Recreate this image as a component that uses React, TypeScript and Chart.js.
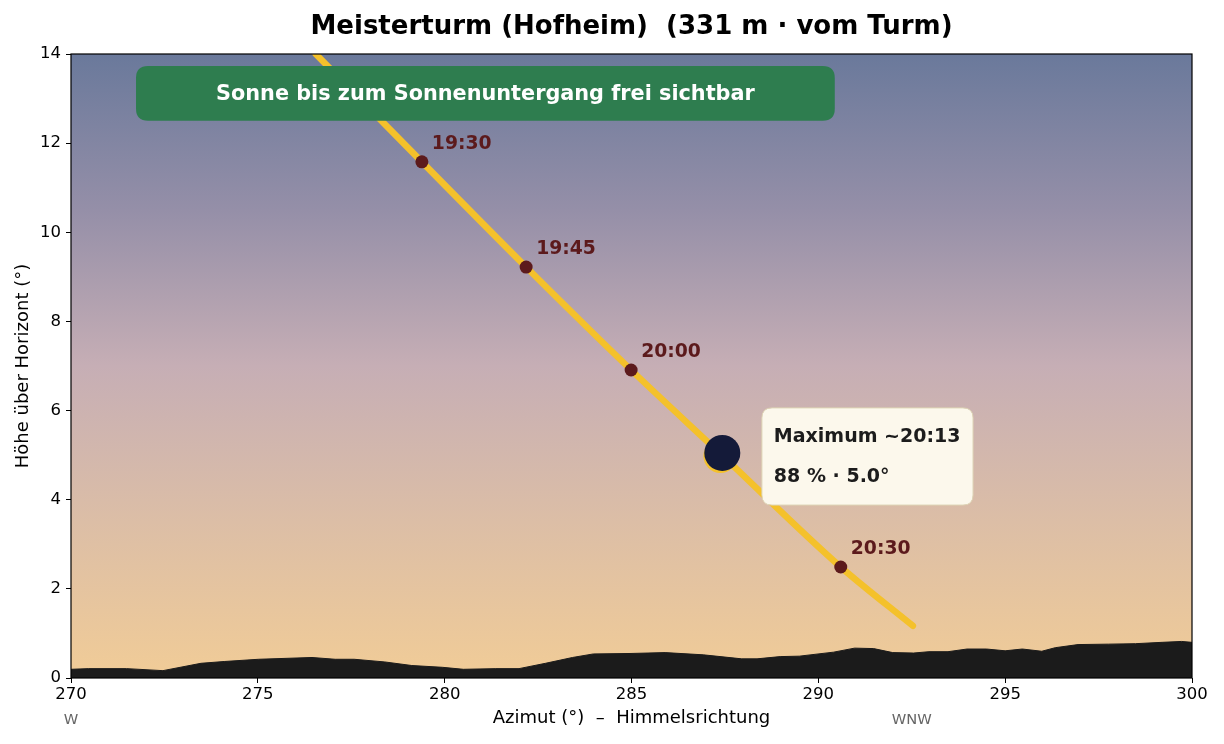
import React, { useEffect, useRef } from "react";
import { Chart, registerables } from "chart.js";

Chart.register(...registerables);

const titleText = "Meisterturm (Hofheim)  (331 m · vom Turm)";
const xTitle = "Azimut (°)  –  Himmelsrichtung";
const yTitle = "Höhe über Horizont (°)";
const bannerText = "Sonne bis zum Sonnenuntergang frei sichtbar";
const maxLine1 = "Maximum ~20:13";
const maxLine2 = "88 % · 5.0°";

const xMin = 270;
const xMax = 300;
const yMin = 0;
const yMax = 14;

// horizon profile
const horizonAz = [270.0, 270.46, 271.49, 272.46, 273.48, 274.1, 275.02, 276.45, 277.07, 277.58, 278.4, 279.12, 279.94, 280.5, 281.37, 281.99, 282.7, 283.42, 283.98, 284.96, 285.9, 286.92, 287.95, 288.36, 288.98, 289.49, 290.41, 290.97, 291.48, 291.99, 292.55, 292.96, 293.47, 293.98, 294.5, 295.0, 295.46, 295.98, 296.34, 296.95, 297.77, 298.49, 299.2, 299.72, 300.0];
const horizonAlt = [0.195, 0.21, 0.21, 0.165, 0.33, 0.37, 0.42, 0.46, 0.42, 0.42, 0.36, 0.28, 0.24, 0.195, 0.21, 0.21, 0.33, 0.46, 0.54, 0.55, 0.57, 0.52, 0.43, 0.43, 0.48, 0.49, 0.58, 0.67, 0.66, 0.57, 0.56, 0.59, 0.59, 0.65, 0.65, 0.61, 0.65, 0.6, 0.68, 0.75, 0.76, 0.77, 0.8, 0.82, 0.8];

// sun path
const pathAz = [276.55, 279.39, 282.18, 284.99, 287.42, 290.6, 292.53];
const pathAlt = [14.0, 11.58, 9.22, 6.91, 5.0, 2.49, 1.17];

// time markers
const markTimes = ["19:30", "19:45", "20:00", "20:30"];
const markAz = [279.39, 282.18, 284.99, 290.6];
const markAlt = [11.58, 9.22, 6.91, 2.49];

// eclipse maximum
const sunAz = 287.38;
const sunAlt = 4.98;
const moonAz = 287.43;
const moonAlt = 5.05;

// direction labels
const dirLabels = ["W", "WNW"];
const dirAz = [270, 292.5];

// annotation boxes (data coords)
const bannerBox = [271.74, 290.44, 13.73, 12.5];
const infoBox = [288.49, 294.14, 6.06, 3.88];
const infoTextAz = 288.81;
const infoTextAlt = [5.43, 4.53];

const FONT = "'DejaVu Sans', sans-serif";

function roundRect(ctx: CanvasRenderingContext2D, x: number, y: number, w: number, h: number, r: number) {
  ctx.beginPath();
  ctx.moveTo(x + r, y);
  ctx.lineTo(x + w - r, y);
  ctx.quadraticCurveTo(x + w, y, x + w, y + r);
  ctx.lineTo(x + w, y + h - r);
  ctx.quadraticCurveTo(x + w, y + h, x + w - r, y + h);
  ctx.lineTo(x + r, y + h);
  ctx.quadraticCurveTo(x, y + h, x, y + h - r);
  ctx.lineTo(x, y + r);
  ctx.quadraticCurveTo(x, y, x + r, y);
  ctx.closePath();
}

export default function App() {
  const ref = useRef<HTMLCanvasElement>(null);

  useEffect(() => {
    document.body.style.margin = "0";
    const canvas = ref.current!;
    const bgPlugin = {
      id: "bg",
      beforeDraw(chart: any) {
        const { ctx, chartArea: a } = chart;
        ctx.save();
        ctx.fillStyle = "#ffffff";
        ctx.fillRect(0, 0, chart.width, chart.height);
        const g = ctx.createLinearGradient(0, a.top, 0, a.bottom);
        g.addColorStop(0, "#6a799b");
        g.addColorStop(0.25, "#958fa8");
        g.addColorStop(0.5, "#c6aeb5");
        g.addColorStop(0.75, "#dcbea6");
        g.addColorStop(1, "#f1cc97");
        ctx.fillStyle = g;
        ctx.fillRect(a.left, a.top, a.right - a.left, a.bottom - a.top);
        ctx.restore();
      },
      afterDatasetsDraw(chart: any) {
        const { ctx } = chart;
        const xs = chart.scales.x;
        const ys = chart.scales.y;
        ctx.save();
        // time labels
        ctx.fillStyle = "#5c1a1c";
        ctx.font = `bold 18.8px ${FONT}`;
        ctx.textAlign = "left";
        ctx.textBaseline = "middle";
        markTimes.forEach((t, i) => {
          const px = xs.getPixelForValue(markAz[i]);
          const py = ys.getPixelForValue(markAlt[i]);
          ctx.fillText(t, px + 10, py - 18);
        });
        // banner
        {
          const l = xs.getPixelForValue(bannerBox[0]);
          const r = xs.getPixelForValue(bannerBox[1]);
          const t = ys.getPixelForValue(bannerBox[2]);
          const b = ys.getPixelForValue(bannerBox[3]);
          ctx.fillStyle = "#2e7d4f";
          roundRect(ctx, l, t, r - l, b - t, 12);
          ctx.fill();
          ctx.fillStyle = "#ffffff";
          ctx.font = `bold 20.8px ${FONT}`;
          ctx.textAlign = "center";
          ctx.textBaseline = "middle";
          ctx.fillText(bannerText, (l + r) / 2, (t + b) / 2 + 1);
        }
        // info box
        {
          const l = xs.getPixelForValue(infoBox[0]);
          const r = xs.getPixelForValue(infoBox[1]);
          const t = ys.getPixelForValue(infoBox[2]);
          const b = ys.getPixelForValue(infoBox[3]);
          ctx.fillStyle = "#fcf8ec";
          ctx.strokeStyle = "#ddd3b4";
          ctx.lineWidth = 1;
          roundRect(ctx, l, t, r - l, b - t, 10);
          ctx.fill();
          ctx.stroke();
          ctx.fillStyle = "#1c1c1c";
          ctx.font = `bold 19px ${FONT}`;
          ctx.textAlign = "left";
          ctx.textBaseline = "middle";
          const tx = xs.getPixelForValue(infoTextAz);
          ctx.fillText(maxLine1, tx, ys.getPixelForValue(infoTextAlt[0]) + 1);
          ctx.fillText(maxLine2, tx, ys.getPixelForValue(infoTextAlt[1]) + 1);
        }
        ctx.restore();
      },
      afterDraw(chart: any) {
        const { ctx, chartArea: a } = chart;
        const xs = chart.scales.x;
        ctx.save();
        ctx.strokeStyle = "#000";
        ctx.lineWidth = 1.2;
        ctx.strokeRect(a.left, a.top, a.right - a.left, a.bottom - a.top);
        // title
        ctx.fillStyle = "#000";
        ctx.font = `bold 26px ${FONT}`;
        ctx.textAlign = "center";
        ctx.textBaseline = "middle";
        ctx.fillText(titleText, (a.left + a.right) / 2, 27);
        // axis titles
        ctx.font = `18px ${FONT}`;
        ctx.fillText(xTitle, (a.left + a.right) / 2, 718);
        ctx.save();
        ctx.translate(23, (a.top + a.bottom) / 2);
        ctx.rotate(-Math.PI / 2);
        ctx.fillText(yTitle, 0, 0);
        ctx.restore();
        // direction labels
        ctx.fillStyle = "#666666";
        ctx.font = `14.7px ${FONT}`;
        dirLabels.forEach((d, i) => {
          ctx.fillText(d, xs.getPixelForValue(dirAz[i]), 720);
        });
        ctx.restore();
      },
    };

    const chart = new Chart(canvas, {
      type: "line",
      data: {
        datasets: [
          {
            label: "Horizont",
            data: horizonAz.map((x, i) => ({ x, y: horizonAlt[i] })),
            fill: "origin",
            backgroundColor: "#1b1b1b",
            borderColor: "#1b1b1b",
            borderWidth: 1,
            pointRadius: 0,
            tension: 0,
            order: 5,
          } as any,
          {
            label: "Sonnenbahn",
            data: pathAz.map((x, i) => ({ x, y: pathAlt[i] })),
            borderColor: "#f4c12b",
            borderWidth: 6.5,
            borderCapStyle: "round",
            pointRadius: 0,
            cubicInterpolationMode: "monotone",
            fill: false,
            order: 4,
          } as any,
          {
            label: "Zeiten",
            data: markAz.map((x, i) => ({ x, y: markAlt[i] })),
            showLine: false,
            pointRadius: 6.5,
            pointBackgroundColor: "#5c1a1c",
            pointBorderWidth: 0,
            order: 3,
          } as any,
          {
            label: "Sonne",
            data: [{ x: sunAz, y: sunAlt }],
            showLine: false,
            pointRadius: 17,
            pointBackgroundColor: "#f4c12b",
            pointBorderWidth: 0,
            order: 2,
          } as any,
          {
            label: "Mond",
            data: [{ x: moonAz, y: moonAlt }],
            showLine: false,
            pointRadius: 18,
            pointBackgroundColor: "#141a39",
            pointBorderWidth: 0,
            order: 1,
          } as any,
        ],
      },
      options: {
        animation: false,
        responsive: false,
        devicePixelRatio: 1,
        layout: { padding: { top: 54, right: 32, left: 0, bottom: 0 } },
        plugins: { legend: { display: false }, tooltip: { enabled: false }, title: { display: false } },
        scales: {
          x: {
            type: "linear",
            min: xMin,
            max: xMax,
            ticks: { stepSize: 5, color: "#000", font: { family: FONT, size: 16.5 }, padding: 2, maxRotation: 0 },
            grid: { drawOnChartArea: false, drawTicks: true, tickLength: 5, color: "#000", lineWidth: 1 },
            border: { display: false },
            afterFit(s: any) {
              s.height = 66;
            },
          },
          y: {
            type: "linear",
            min: yMin,
            max: yMax,
            ticks: { stepSize: 2, color: "#000", font: { family: FONT, size: 16.5 }, padding: 5 },
            grid: { drawOnChartArea: false, drawTicks: true, tickLength: 5, color: "#000", lineWidth: 1 },
            border: { display: false },
            afterFit(s: any) {
              s.width = 71;
            },
          },
        },
      } as any,
      plugins: [bgPlugin],
    });
    return () => chart.destroy();
  }, []);

  return (
    <div style={{ position: "absolute", left: 0, top: 0, width: 1224, height: 744 }}>
      <canvas ref={ref} width={1224} height={744} style={{ width: 1224, height: 744, display: "block" }} />
    </div>
  );
}
